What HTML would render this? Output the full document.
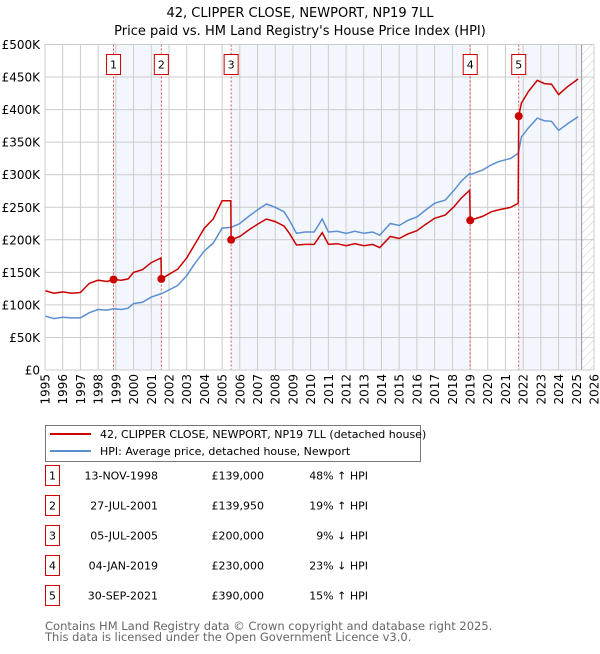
<!DOCTYPE html>
<html><head><meta charset="utf-8"><style>
body{margin:0;background:#fff;font-family:"DejaVu Sans","Liberation Sans",sans-serif;}
svg text{font-family:"DejaVu Sans","Liberation Sans",sans-serif;}
</style></head><body>
<svg id="c" width="600" height="650" viewBox="0 0 600 650" xmlns="http://www.w3.org/2000/svg">
<defs><pattern id="hatch" width="6" height="6" patternUnits="userSpaceOnUse" patternTransform="rotate(45)"><line x1="0" y1="0" x2="0" y2="6" stroke="#ccc" stroke-width="1"/></pattern></defs>
<text x="300" y="17" text-anchor="middle" font-size="13">42, CLIPPER CLOSE, NEWPORT, NP19 7LL</text>
<text x="300" y="35" text-anchor="middle" font-size="13">Price paid vs. HM Land Registry's House Price Index (HPI)</text>
<g id="plot"></g>
<g>
<rect x="45.5" y="425.5" width="375" height="36" fill="#fff" stroke="#777"/>
<line x1="50" y1="434" x2="91" y2="434" stroke="#cc0000" stroke-width="2"/>
<text x="100" y="438" font-size="11">42, CLIPPER CLOSE, NEWPORT, NP19 7LL (detached house)</text>
<line x1="50" y1="451" x2="91" y2="451" stroke="#5b8fd0" stroke-width="2"/>
<text x="100" y="455" font-size="11">HPI: Average price, detached house, Newport</text>
</g>
<g id="table"></g>
<text x="45" y="630" font-size="11.5" fill="#666">Contains HM Land Registry data © Crown copyright and database right 2025.</text>
<text x="45" y="641" font-size="11.5" fill="#666">This data is licensed under the Open Government Licence v3.0.</text>
</svg>
<script>
const times=[1995,1995.5,1996,1996.5,1997,1997.5,1998,1998.5,1998.87,1999.3,1999.7,2000,2000.5,2001,2001.55,2001.57,2002,2002.5,2003,2003.5,2004,2004.5,2005,2005.49,2005.51,2006,2006.5,2007,2007.5,2008,2008.5,2008.8,2009.2,2009.7,2010.2,2010.65,2011,2011.5,2012,2012.5,2013,2013.5,2013.9,2014.5,2015,2015.5,2016,2016.5,2017,2017.6,2018.1,2018.5,2018.98,2019.01,2019.7,2020.2,2020.6,2021.3,2021.72,2021.75,2021.9,2022.3,2022.8,2023.2,2023.6,2024.0,2024.5,2025.1];
const hpiValues=[83,79,81,80,80,88,93,92,94,93,95,102,104,112,117,117,123,130,145,165,183,195,218,219,219,225,236,246,255,250,243,230,210,212,212,232,212,213,210,213,210,212,207,225,222,230,235,246,256,261,276,290,302,300,307,315,320,325,333,336,358,372,387,383,382,368,378,389];
const propertyValues=[122,118,120,118,119,133,138,136,139,138,140,150,154,165,172,140,147,155,172,195,218,232,260,260,200,205,215,224,232,228,221,210,192,193,193,211,193,194,191,194,191,193,188,205,202,209,214,224,233,238,251,264,276,230,236,243,246,250,256,390,410,428,445,440,439,423,435,447];
const saleIds=["1","2","3","4","5"];
const saleTimes=[1998.87,2001.57,2005.51,2019.01,2021.75];
const salePrices=[139,139.95,200,230,390];
const saleDates=["13-NOV-1998","27-JUL-2001","05-JUL-2005","04-JAN-2019","30-SEP-2021"];
const salePriceLabels=["£139,000","£139,950","£200,000","£230,000","£390,000"];
const saleHpiLabels=["48% \u2191 HPI","19% \u2191 HPI","9% \u2193 HPI","23% \u2193 HPI","15% \u2191 HPI"];
const yTicks=[0,50,100,150,200,250,300,350,400,450,500];
const yTickLabels=["£0","£50K","£100K","£150K","£200K","£250K","£300K","£350K","£400K","£450K","£500K"];
const xStart=1995,xEnd=2026,dataEnd=2025.3;

const L=45,R=594,T=44.5,B=370;
const X=t=>L+(t-xStart)/(xEnd-xStart)*(R-L);
const Y=v=>B-v/500*(B-T);
const NS="http://www.w3.org/2000/svg";
const plot=document.getElementById('plot');
function mk(tag,attrs,parent){const e=document.createElementNS(NS,tag);for(const k in attrs)e.setAttribute(k,attrs[k]);(parent||plot).appendChild(e);return e;}

// shaded spans
for(let i=0;i<saleTimes.length;i+=2){
  const a=saleTimes[i],b=i+1<saleTimes.length?saleTimes[i+1]:dataEnd;
  const r=mk('rect',{x:X(a),y:T,width:X(b)-X(a),height:B-T,fill:'#eef3fc',opacity:0.7});
  
  
}
const h=mk('rect',{x:X(dataEnd),y:T,width:R-X(dataEnd),height:B-T,fill:'url(#hatch)'});


// grid
for(let yr=xStart;yr<=xEnd;yr++){
  const g=mk('line',{x1:X(yr),x2:X(yr),y1:T,y2:B,stroke:'#ccc','stroke-width':1});
  
  
  const tx=mk('text',{x:0,y:0,'font-size':12,'text-anchor':'end',transform:`translate(${X(yr)+4.5},374) rotate(-90)`});
  tx.textContent=yr;
  
  
}
yTicks.forEach((v,i)=>{
  const g=mk('line',{x1:L,x2:R,y1:Y(v),y2:Y(v),stroke:'#ccc','stroke-width':1});
  
  
  const tx=mk('text',{x:40,y:Y(v)+4.5,'font-size':12,'text-anchor':'end'});
  tx.textContent=yTickLabels[i];
  
  
});
const vx=mk('line',{x1:X(dataEnd),x2:X(dataEnd),y1:T,y2:B,stroke:'#999','stroke-width':1});


// sale vlines & boxes
saleTimes.forEach((t,i)=>{
  const l=mk('line',{x1:X(t),x2:X(t),y1:T,y2:B,stroke:'#e05050','stroke-width':1,'stroke-dasharray':'2,2'});
  
  
  const bx=mk('rect',{x:X(t)-7,y:54.5,width:14,height:20,fill:'#fff',stroke:'#cc0000'});
  
  
  const tx=mk('text',{x:X(t),y:68.5,'font-size':11,'text-anchor':'middle'});
  tx.textContent=saleIds[i];
  
  
});
function path(vals){return vals.map((v,i)=>(i?'L':'M')+X(times[i]).toFixed(1)+','+Y(v).toFixed(1)).join('');}
const hp=mk('path',{d:path(hpiValues),fill:'none',stroke:'#5b8fd0','stroke-width':1.5});


const pp=mk('path',{d:path(propertyValues),fill:'none',stroke:'#cc0000','stroke-width':1.5});


saleTimes.forEach((t,i)=>{
  const c=mk('circle',{cx:X(t),cy:Y(salePrices[i]),r:4,fill:'#cc0000'});
  
  
});
const frame=mk('rect',{x:L,y:T,width:R-L,height:B-T,fill:'none',stroke:'#ccc'});



// table
const tb=document.getElementById('table');
saleIds.forEach((id,i)=>{
  const y=475+i*30;
  const row=mk('g',{},tb);
  
  
  mk('rect',{x:45.5,y:y-9.5,width:14,height:20,fill:'#fff',stroke:'#cc0000'},row);
  const cells=[[52.5,id,'middle'],[158,saleDates[i],'end'],[264,salePriceLabels[i],'end'],[368,saleHpiLabels[i],'end']];
  cells.forEach(c=>{const t=mk('text',{x:c[0],y:y+4.5,'font-size':11,'text-anchor':c[2]},row);t.textContent=c[1];});
});
</script>
</body></html>
